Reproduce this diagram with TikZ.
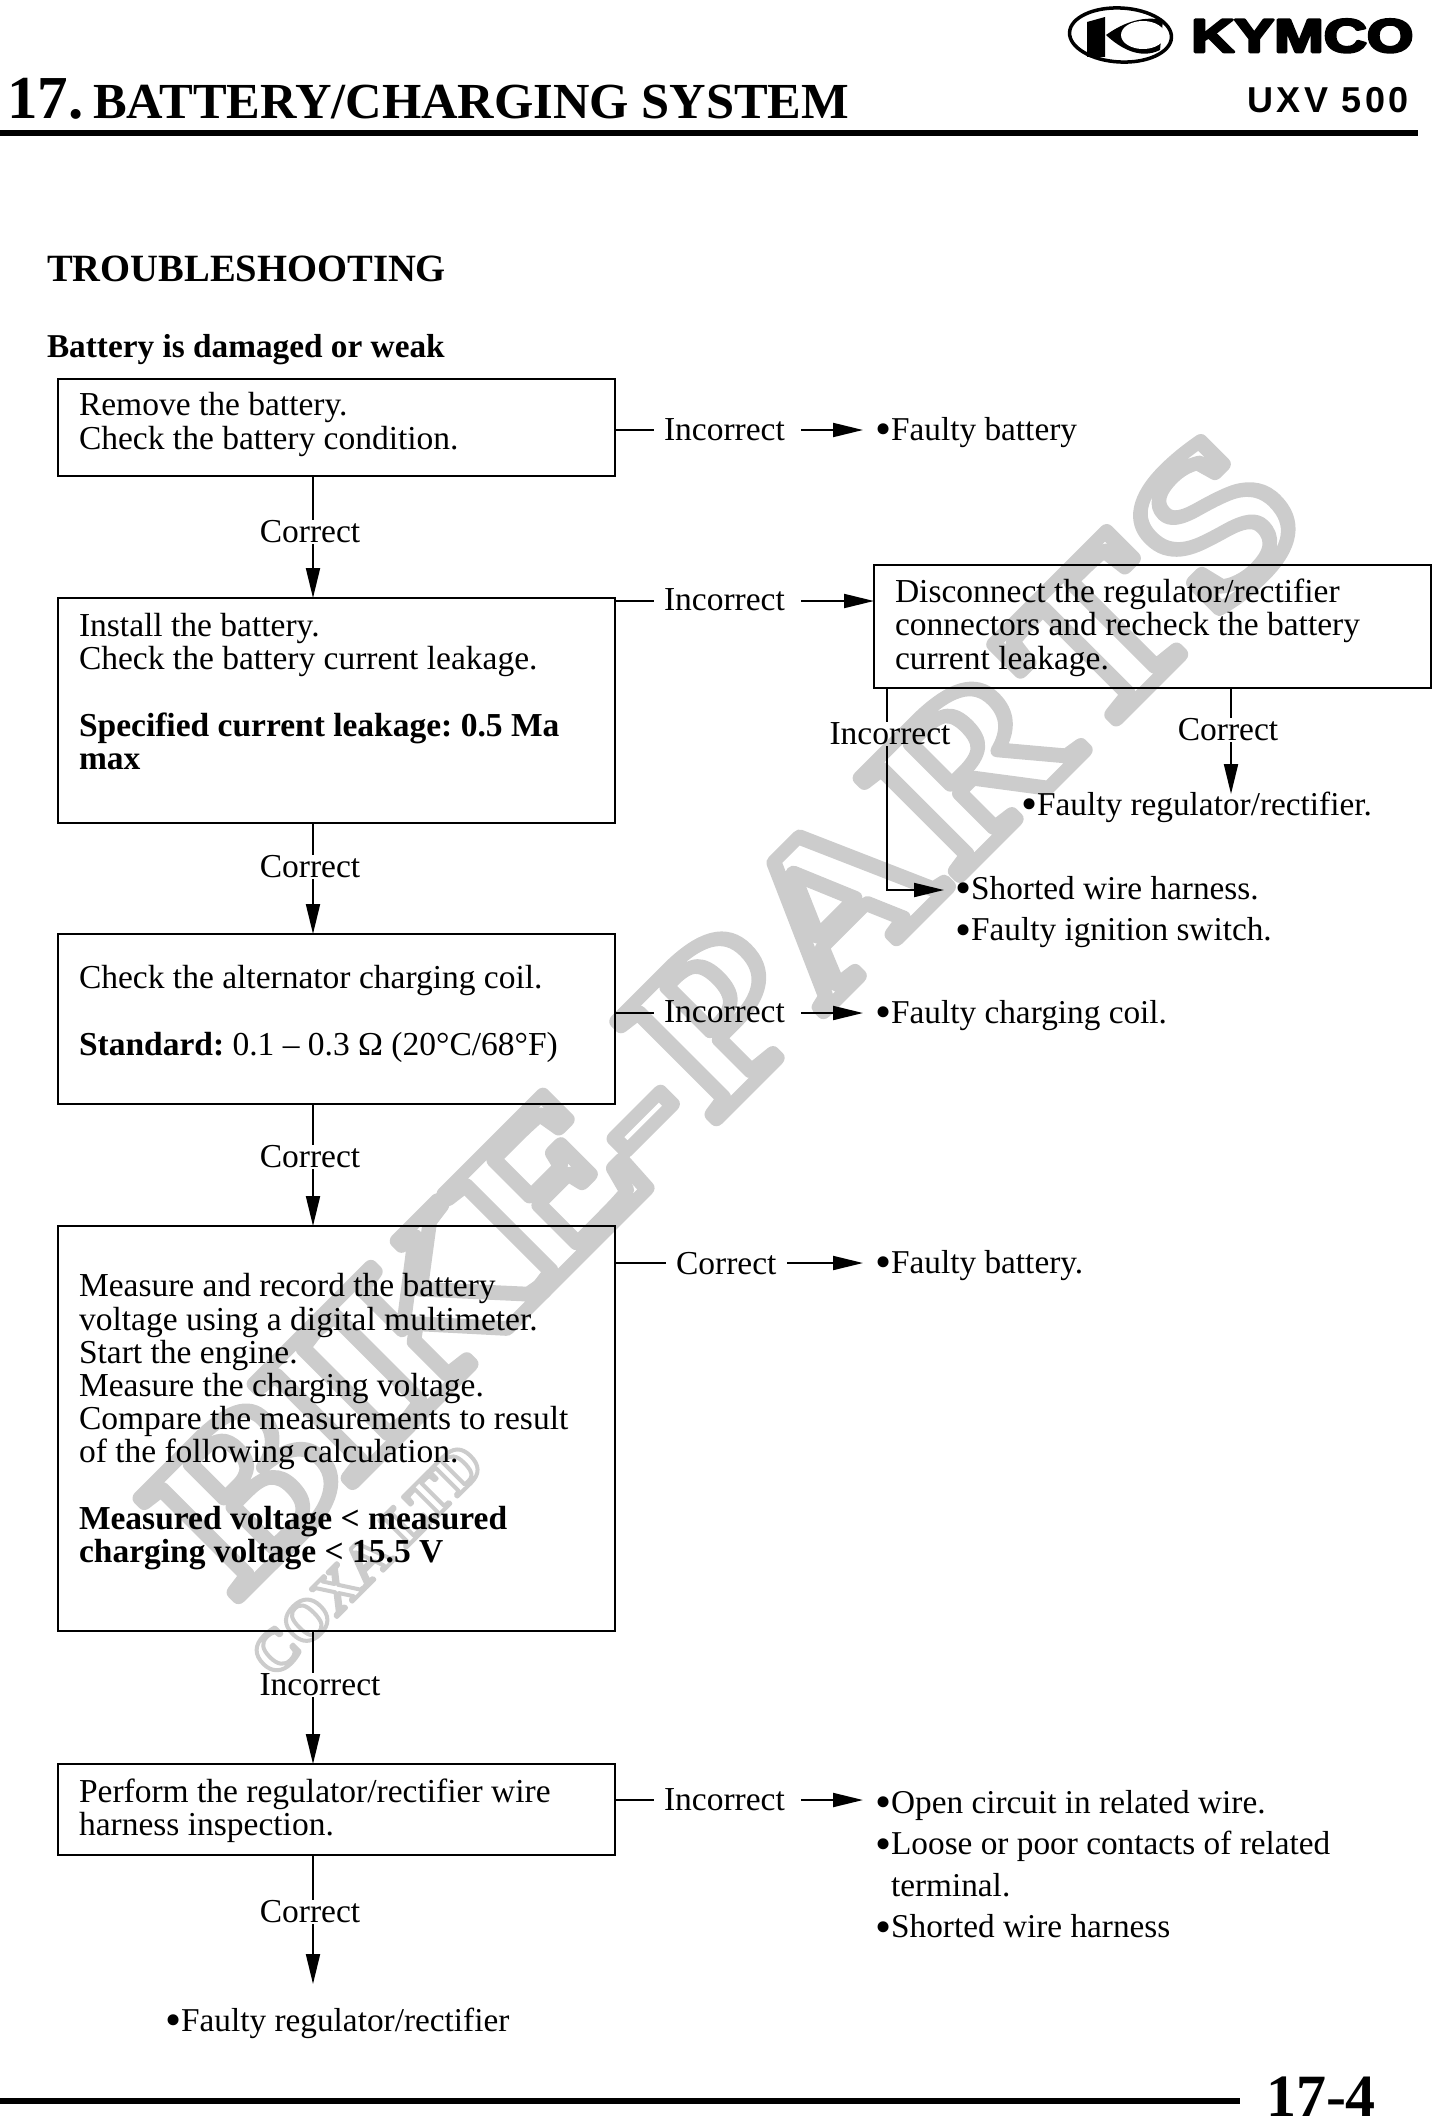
\documentclass[tikz,border=0pt]{standalone}
\usepackage{fontspec}
\setmainfont{Liberation Serif}
\newfontfamily\hsfont{Liberation Sans}
\usetikzlibrary{arrows.meta,calc}
\definecolor{wm}{gray}{0.8}
\newcommand{\fs}[2]{\fontsize{#1pt}{#2pt}\selectfont\frenchspacing}
\newcommand{\hollow}[2]{\special{pdf:code q 1 Tr #1 w 1 j 1 J 0.8 G}#2\special{pdf:code Q}}
\newcommand{\heavy}[2]{\special{pdf:code q 2 Tr #1 w 1 j 0 G}#2\special{pdf:code Q}}
\newcommand{\bul}{{\fontsize{46pt}{0pt}\selectfont\raisebox{-4.5pt}{•}}}
\tikzset{
  x=1pt,y=-1pt,
  box/.style={draw,line width=2pt,outer sep=0pt,anchor=north west,inner xsep=21pt,inner ysep=0pt,
    align=flush left,font=\fs{33.5}{33.2}},
  clab/.style={inner sep=0pt,outer sep=0pt,anchor=base,text height=22pt,text depth=2pt,font=\fs{33.5}{33}},
  rlab/.style={inner xsep=10pt,inner ysep=0pt,outer sep=0pt,anchor=base west,font=\fs{33.5}{33}},
  res/.style={inner xsep=0pt,inner ysep=0pt,outer sep=0pt,anchor=base west,font=\fs{33.3}{33},text height=21pt,text depth=2pt},
  lst/.style={inner sep=0pt,outer sep=0pt,anchor=north west,align=flush left,font=\fs{33.3}{41.6}},
  title/.style={inner sep=0pt,outer sep=0pt,anchor=base west,font=\bfseries\fs{#1}{#1}},
  conn/.style={line width=2pt},
  arr/.style={line width=2pt,-{Triangle[length=30pt,width=14pt]}},
}
\begin{document}
\begin{tikzpicture}
\useasboundingbox (0,0) rectangle (1432,2117);
% watermark
\node[inner sep=0pt,rotate=45,text=wm,font=\bfseries\fs{215}{215}] (wmk) at (725,1012) {\scalebox{1.16}[1]{\hollow{13.5}{B\kern-8pt I\kern-8pt K\kern-8pt E\kern-10pt -\kern6pt P\kern2pt A\kern8pt R\kern8pt T\kern8pt S}}};
\node[inner sep=0pt,rotate=45,text=wm,font=\bfseries\fs{58}{58}] (wms) at (367,1560) {\hollow{4}{COXA LTD}};
% header
\node[title=61] (num) at (7,118) {17.};
\node[title=50.5] (head) at (93,118) {BATTERY/CHARGING SYSTEM};
\draw[line width=6pt] (0,133) coordinate (hrl) -- (1418,133) coordinate (hrr);
% logo
\draw[line width=3.5pt,rotate around={-3:(1120.5,35)}] (1120.5,35) ellipse (51 and 27);
\fill (1087,22) -- (1105,17) -- (1105,57) -- (1087,57) -- cycle;
\fill (1106,35) .. controls (1120,25) and (1140,15) .. (1163,20) -- (1160,50) .. controls (1140,60) and (1120,48) .. (1106,35) -- cycle;
\fill[white] (1143,35) ellipse (22 and 14);
\node[inner sep=0pt,anchor=base west,font=\hsfont\bfseries\fs{47}{47}] (kym) at (1191,52) {\scalebox{1.27}[1]{\heavy{2.5}{KYMCO}}};
\node[inner sep=0pt,anchor=base west,font=\hsfont\bfseries\fs{36}{36}] (uxv) at (1247,112) {U\kern3.5pt X\kern3.5pt V\kern3.5pt\ 5\kern3.5pt 0\kern3.5pt 0};
% titles
\node[title=38.6] (ts) at (47,281) {TROUBLESHOOTING};
\node[title=33.3] (bw) at (47,357) {Battery is damaged or weak};
% boxes
\node[box,text width=515pt,minimum height=97pt] (b1) at (58,379) {Remove the battery.\\Check the battery condition.\\[-20pt]\mbox{}};
\node[box,text width=515pt,minimum height=225pt] (b2) at (58,598) {Install the battery.\\Check the battery current leakage.\\[33pt]\textbf{Specified current leakage: 0.5 Ma}\\\textbf{max}\\[5pt]\mbox{}};
\node[box,text width=515pt,minimum height=170pt] (b3) at (58,934) {Check the alternator charging coil.\\[33pt]\textbf{Standard:} 0.1 – 0.3 Ω (20°C/68°F)\\[-16pt]\mbox{}};
\node[box,text width=515pt,minimum height=405pt] (b4) at (58,1226) {Measure and record the battery\\voltage using a digital multimeter.\\Start the engine.\\Measure the charging voltage.\\Compare the measurements to result\\of the following calculation.\\[33pt]\textbf{Measured voltage < measured}\\\textbf{charging voltage < 15.5 V}\\[-12pt]\mbox{}};
\node[box,text width=515pt,minimum height=91pt] (b5) at (58,1764) {\mbox{}\\[-7pt]Perform the regulator/rectifier wire\\harness inspection.};
\node[box,text width=515pt,minimum height=123pt] (br) at (874,565) {\mbox{}\\[-7pt]Disconnect the regulator/rectifier\\connectors and recheck the battery\\current leakage.};
% vertical x reference
\coordinate (vx) at (313,0);
% left column labels
\node[clab] (c1) at (310,542) {Correct};
\node[clab] (c2) at (310,877) {Correct};
\node[clab] (c3) at (310,1167) {Correct};
\node[clab] (c4) at (320,1695) {Incorrect};
\node[clab] (c5) at (310,1922) {Correct};
\coordinate (fend) at (313,1984);
\node[res] (fr) at (165,2031) {\bul Faulty regulator/rectifier};
\foreach \u/\l/\d in {b1/c1/b2,b2/c2/b3,b3/c3/b4,b4/c4/b5}{
  \draw[conn] (\u.south -| vx) -- (\l.north -| vx);
  \draw[arr] (\l.south -| vx) -- (\d.north -| vx);
}
\draw[conn] (b5.south -| vx) -- (c5.north -| vx);
\draw[arr] (c5.south -| vx) -- (fend);
% right side rows
\coordinate (r1) at (801,430);
\coordinate (r2) at (801,601);
\coordinate (r3) at (801,1013);
\coordinate (r4) at (787,1263);
\coordinate (r5) at (801,1800);
\node[rlab] (l1) at (654,440) {Incorrect};
\node[rlab] (l2) at (654,610) {Incorrect};
\node[rlab] (l3) at (654,1022) {Incorrect};
\node[rlab] (l4) at (666,1274) {Correct};
\node[rlab] (l5) at (654,1810) {Incorrect};
\node[res,inner xsep=12pt] (t1) at (863,440) {\bul Faulty battery};
\node[res,inner xsep=12pt] (t3) at (863,1023) {\bul Faulty charging coil.};
\node[res,inner xsep=12pt] (t4) at (863,1273) {\bul Faulty battery.};
\node[lst,inner xsep=12pt] (t5) at (863,1790) {\bul Open circuit in related wire.\\\bul Loose or poor contacts of related\\\hspace*{16pt}terminal.\\\bul Shorted wire harness};
\draw[conn] (b1.east |- r1) -- (l1.west |- r1);
\draw[conn] (b2.north east |- r2) -- (l2.west |- r2);
\draw[conn] (b3.east |- r3) -- (l3.west |- r3);
\draw[conn] (b4.north east |- r4) -- (l4.west |- r4);
\draw[conn] (b5.east |- r5) -- (l5.west |- r5);
\draw[arr] (r1) -- (t1.west |- r1);
\draw[arr] (r2) -- (br.west |- r2);
\draw[arr] (r3) -- (t3.west |- r3);
\draw[arr] (r4) -- (t4.west |- r4);
\draw[arr] (r5) -- (t5.west |- r5);
% below right box
\coordinate (vl) at (886.5,0);
\coordinate (vr) at (1231,0);
\coordinate (rs) at (0,890);
\node[clab] (il) at (890,744) {Incorrect};
\node[clab] (cr) at (1228,740) {Correct};
\node[res] (frr) at (1021,815) {\bul Faulty regulator/rectifier.};
\node[lst,inner xsep=11pt] (sw) at (944,876) {\bul Shorted wire harness.\\\bul Faulty ignition switch.};
\draw[conn] (br.south -| vl) -- (il.north -| vl);
\draw[arr] (il.south -| vl) |- (sw.west |- rs);
\draw[conn] (br.south -| vr) -- (cr.north -| vr);
\draw[arr] (cr.south -| vr) -- (frr.north -| vr);
% footer
\draw[line width=6pt] (0,2101) coordinate (frl) -- (1240,2101) coordinate (frr2);
\node[title=60] (pg) at (1266,2116) {17-4};
\end{tikzpicture}
\end{document}
